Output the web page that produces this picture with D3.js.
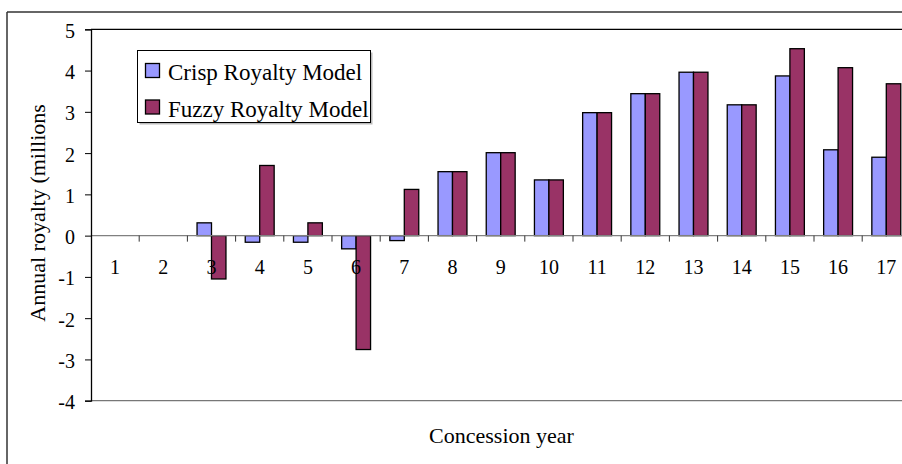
<!DOCTYPE html>
<html>
<head>
<meta charset="utf-8">
<script src="https://cdn.jsdelivr.net/npm/d3@7"></script>
<style>
  html, body { margin: 0; padding: 0; background: #fff; overflow: hidden; }
  svg { display: block; }
  text { font-family: "Liberation Serif", "Times New Roman", serif; fill: #000; }
</style>
</head>
<body>
<svg id="chart" width="902" height="464" viewBox="0 0 902 464" overflow="hidden"></svg>
<script>
// ---- data ----
const categories = ["1","2","3","4","5","6","7","8","9","10","11","12","13","14","15","16","17"];
const seriesNames = ["Crisp Royalty Model", "Fuzzy Royalty Model"];
const crispValues = [0, 0, 0.31, -0.16, -0.16, -0.32, -0.12, 1.55, 2.01, 1.35, 2.98, 3.44, 3.96, 3.17, 3.87, 2.08, 1.90];
const fuzzyValues = [0, 0, -1.05, 1.70, 0.31, -2.76, 1.12, 1.55, 2.01, 1.35, 2.98, 3.44, 3.96, 3.17, 4.53, 4.07, 3.68];
const yTicks = [-4, -3, -2, -1, 0, 1, 2, 3, 4, 5];
const xTitle = "Concession year";
const yTitle = "Annual royalty (millions)";

const colors = ["#9999FF", "#993366"];

const W = 902, H = 464;
const svg = d3.select("#chart");
svg.append("rect").attr("width", W).attr("height", H).attr("fill", "#fff");

// outer chart frame: only top and left edges are inside the picture
svg.append("line").attr("x1", 7).attr("x2", 7).attr("y1", 12).attr("y2", H)
  .attr("stroke", "#333").attr("stroke-width", 1.5);
svg.append("line").attr("x1", 7).attr("x2", W).attr("y1", 12).attr("y2", 12)
  .attr("stroke", "#333").attr("stroke-width", 1.5);

const plotLeft = 91, plotTop = 29.3, plotBottom = 400.7;
const step = 48.2;
const plotRight = plotLeft + step * categories.length;

const x = d3.scaleBand().domain(categories).range([plotLeft, plotRight])
  .paddingInner(0.4).paddingOuter(0.2);
const x1 = d3.scaleBand().domain(seriesNames).range([0, x.bandwidth()]);
const y = d3.scaleLinear().domain([-4, 5]).range([plotBottom, plotTop]);

// plot area border top & bottom
svg.append("line").attr("x1", plotLeft).attr("x2", W).attr("y1", y(5)).attr("y2", y(5))
  .attr("stroke", "#000").attr("stroke-width", 1.2);
svg.append("line").attr("x1", plotLeft).attr("x2", W).attr("y1", y(-4)).attr("y2", y(-4))
  .attr("stroke", "#777").attr("stroke-width", 1.2);

// bars
const rows = categories.map((c, i) => ({ cat: c, vals: [crispValues[i], fuzzyValues[i]] }));
const groups = svg.append("g").selectAll("g").data(rows).join("g")
  .attr("transform", d => `translate(${x(d.cat)},0)`);
groups.selectAll("rect")
  .data(d => d.vals.map((v, j) => ({ v, s: seriesNames[j], j })).filter(e => e.v !== 0))
  .join("rect")
  .attr("x", e => x1(e.s))
  .attr("width", x1.bandwidth())
  .attr("y", e => y(Math.max(0, e.v)))
  .attr("height", e => Math.abs(y(e.v) - y(0)))
  .attr("fill", e => colors[e.j])
  .attr("stroke", "#000").attr("stroke-width", 1.3);

// zero axis line
svg.append("line").attr("x1", plotLeft).attr("x2", W).attr("y1", y(0)).attr("y2", y(0))
  .attr("stroke", "#808080").attr("stroke-width", 1.2);

// category boundary ticks
const boundaries = categories.slice(0, -1).map(c => x(c) + x.bandwidth() + (x.step() - x.bandwidth()) / 2);
svg.append("g").selectAll("line").data(boundaries).join("line")
  .attr("x1", d => d).attr("x2", d => d)
  .attr("y1", y(0)).attr("y2", y(0) + 6)
  .attr("stroke", "#333").attr("stroke-width", 1);

// category labels
svg.append("g").selectAll("text").data(categories).join("text")
  .attr("x", d => x(d) + x.bandwidth() / 2)
  .attr("y", y(0) + 38.7)
  .attr("text-anchor", "middle")
  .attr("font-size", 20)
  .text(d => d);

// y axis
const yAxis = svg.append("g").attr("transform", `translate(${plotLeft},0)`)
  .call(d3.axisLeft(y).tickValues(yTicks).tickSize(6).tickPadding(10).tickFormat(d => String(d)));
yAxis.select(".domain").attr("stroke", "#000").attr("stroke-width", 1.3);
yAxis.selectAll(".tick line").attr("stroke", "#000");
yAxis.selectAll(".tick text")
  .attr("font-family", "'Liberation Serif', 'Times New Roman', serif")
  .attr("font-size", 20).attr("fill", "#000").attr("dy", "0.4em");

// axis titles
svg.append("text")
  .attr("x", 501.5).attr("y", 443.3)
  .attr("text-anchor", "middle").attr("font-size", 22)
  .text(xTitle);

svg.append("clipPath").attr("id", "yclip")
  .append("rect").attr("x", 0).attr("y", 104).attr("width", 80).attr("height", 300);
svg.append("g").attr("clip-path", "url(#yclip)")
  .append("text")
  .attr("transform", "translate(45,321.7) rotate(-90)")
  .attr("text-anchor", "start").attr("font-size", 22)
  .text(yTitle);

// legend
const lg = svg.append("g");
lg.append("rect").attr("x", 139.5).attr("y", 52.5).attr("width", 233).attr("height", 72)
  .attr("fill", "#bbb");
lg.append("rect").attr("x", 137.5).attr("y", 50.5).attr("width", 233).attr("height", 72)
  .attr("fill", "#fff").attr("stroke", "#000").attr("stroke-width", 1);
const legendY = [63.5, 100];
const legendBase = [80.3, 116.5];
seriesNames.forEach((s, i) => {
  lg.append("rect").attr("x", 145.5).attr("y", legendY[i]).attr("width", 14).attr("height", 14)
    .attr("fill", colors[i]).attr("stroke", "#000").attr("stroke-width", 1.3);
  lg.append("text").attr("x", 168).attr("y", legendBase[i]).attr("font-size", 23).text(s);
});
</script>
</body>
</html>
